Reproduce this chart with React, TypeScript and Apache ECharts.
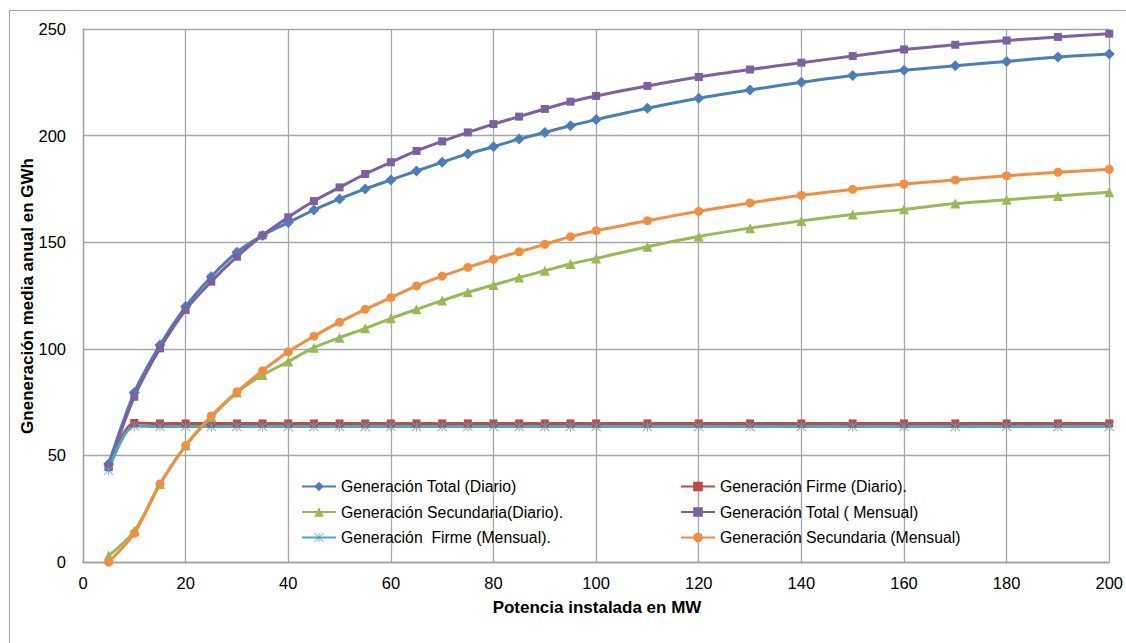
import React, { useEffect, useRef } from "react";
import * as echarts from "echarts";

const potencia = [5, 10, 15, 20, 25, 30, 35, 40, 45, 50, 55, 60, 65, 70, 75, 80, 85, 90, 95, 100, 110, 120, 130, 140, 150, 160, 170, 180, 190, 200];

const totalDiario = [46, 79.5, 101.8, 119.8, 133.8, 145.3, 153.2, 159.2, 165.1, 170.3, 175, 179.2, 183.4, 187.5, 191.4, 194.8, 198.4, 201.5, 204.6, 207.5, 212.8, 217.5, 221.4, 225, 228.2, 230.6, 232.8, 234.8, 236.9, 238.3];
const firmeDiario = [44.5, 65.2, 65, 65, 65, 65, 65, 65, 65, 65, 65, 65, 65, 65, 65, 65, 65, 65, 65, 65, 65, 65, 65, 65, 65, 65, 65, 65, 65, 65];
const secundariaDiario = [3, 14.5, 36.6, 54.6, 68, 79.5, 87.7, 94, 100.5, 105.2, 109.6, 114.3, 118.5, 122.6, 126.5, 129.9, 133.4, 136.6, 139.8, 142.4, 147.9, 152.7, 156.6, 160, 163, 165.4, 168.1, 169.9, 171.7, 173.4];
const totalMensual = [44.5, 77.5, 100.2, 118.2, 131.5, 143.2, 153.2, 161.7, 169.3, 175.7, 182, 187.5, 192.8, 197.3, 201.5, 205.4, 208.9, 212.5, 215.9, 218.6, 223.3, 227.5, 231, 234.2, 237.3, 240.4, 242.6, 244.6, 246.3, 247.8];
const firmeMensual = [43, 63.8, 63.5, 63.5, 63.5, 63.5, 63.5, 63.5, 63.5, 63.5, 63.5, 63.5, 63.5, 63.5, 63.5, 63.5, 63.5, 63.5, 63.5, 63.5, 63.5, 63.5, 63.5, 63.5, 63.5, 63.5, 63.5, 63.5, 63.5, 63.5];
const secundariaMensual = [0, 13.5, 36.6, 54.6, 68.5, 79.8, 89.7, 98.6, 105.9, 112.5, 118.5, 124, 129.5, 134.1, 138.2, 142, 145.5, 149, 152.6, 155.4, 160.1, 164.5, 168.4, 172, 174.8, 177.3, 179.2, 181.2, 182.8, 184.2];

const seriesNames = [
  "Generación Total (Diario)",
  "Generación Firme (Diario).",
  "Generación Secundaria(Diario).",
  "Generación Total ( Mensual)",
  "Generación  Firme (Mensual).",
  "Generación Secundaria (Mensual)",
];
const seriesValues = [totalDiario, firmeDiario, secundariaDiario, totalMensual, firmeMensual, secundariaMensual];
const seriesColors = ["#4a7ebb", "#be4b48", "#98b954", "#7d60a0", "#46aac5", "#f28e3e"];
const asterisk =
  "path://M9.2,0L10.8,0L10.8,20L9.2,20Z M1.1,0L20,18.9L18.9,20L0,1.1Z M18.9,0L20,1.1L1.1,20L0,18.9Z";
const seriesSymbols = ["diamond", "rect", "triangle", "rect", asterisk, "circle"];
const seriesSymbolSizes = [11, 8, 10, 8, 10, 9];

const xAxisTitle = "Potencia instalada en MW";
const yAxisTitle = "Gneneración media anual en GWh";

export default function App() {
  const ref = useRef<HTMLDivElement>(null);
  useEffect(() => {
    if (!ref.current) return;
    const chart = echarts.init(ref.current, undefined, { renderer: "svg" });
    const font = "Liberation Sans, Arial, sans-serif";
    const series = seriesNames.map((name, i) => ({
      name,
      type: "line",
      data: potencia.map((x, j) => [x, seriesValues[i][j]]),
      smooth: 0.3,
      symbol: seriesSymbols[i],
      symbolSize: seriesSymbolSizes[i],
      showSymbol: true,
      color: seriesColors[i],
      lineStyle: { width: 3, color: seriesColors[i] },
      itemStyle: { color: seriesColors[i] },
      emphasis: { disabled: true },
    }));
    const legendCommon = {
      orient: "vertical",
      top: 478.5,
      padding: 0,
      itemWidth: 34,
      itemHeight: 12,
      itemGap: 9.5,
      textStyle: { fontFamily: font, fontSize: 15.8, color: "#000" },
      selectedMode: false,
    };
    chart.setOption({
      animation: false,
      backgroundColor: "#fff",
      textStyle: { fontFamily: font },
      grid: { left: 83, right: 14, top: 29, bottom: 81, containLabel: false },
      legend: [
        { ...legendCommon, left: 301, data: [seriesNames[0], seriesNames[2], seriesNames[4]] },
        { ...legendCommon, left: 680, data: [seriesNames[1], seriesNames[3], seriesNames[5]] },
      ],
      xAxis: {
        type: "value",
        min: 0,
        max: 200,
        interval: 20,
        axisLine: { show: true, lineStyle: { color: "#a0a0a0", width: 1.3 } },
        axisTick: { show: false },
        axisLabel: { color: "#000", fontSize: 16.5, fontFamily: font, margin: 12 },
        splitLine: { show: true, lineStyle: { color: "#a6a6a6", width: 1.3 } },
      },
      yAxis: {
        type: "value",
        min: 0,
        max: 250,
        interval: 50,
        axisLine: { show: true, lineStyle: { color: "#a0a0a0", width: 1.3 } },
        axisTick: { show: false },
        axisLabel: { color: "#000", fontSize: 16.5, fontFamily: font, margin: 17 },
        splitLine: { show: true, lineStyle: { color: "#a6a6a6", width: 1.3 } },
      },
      graphic: [
        {
          type: "rect",
          shape: { x: 9.5, y: 10.5, width: 1300, height: 800 },
          style: { fill: "none", stroke: "#a0a0a0", lineWidth: 1 },
          silent: true,
        },
        {
          type: "text",
          x: 597,
          y: 607,
          style: {
            text: xAxisTitle,
            font: `bold 17px ${font}`,
            fill: "#000",
            textAlign: "center",
            textVerticalAlign: "middle",
          },
        },
        {
          type: "text",
          x: 27,
          y: 296,
          rotation: Math.PI / 2,
          style: {
            text: yAxisTitle,
            font: `bold 17px ${font}`,
            fill: "#000",
            textAlign: "center",
            textVerticalAlign: "middle",
          },
        },
      ],
      series,
    });
    return () => chart.dispose();
  }, []);
  return <div ref={ref} style={{ position: "absolute", left: 0, top: 0, width: 1126, height: 643 }} />;
}
